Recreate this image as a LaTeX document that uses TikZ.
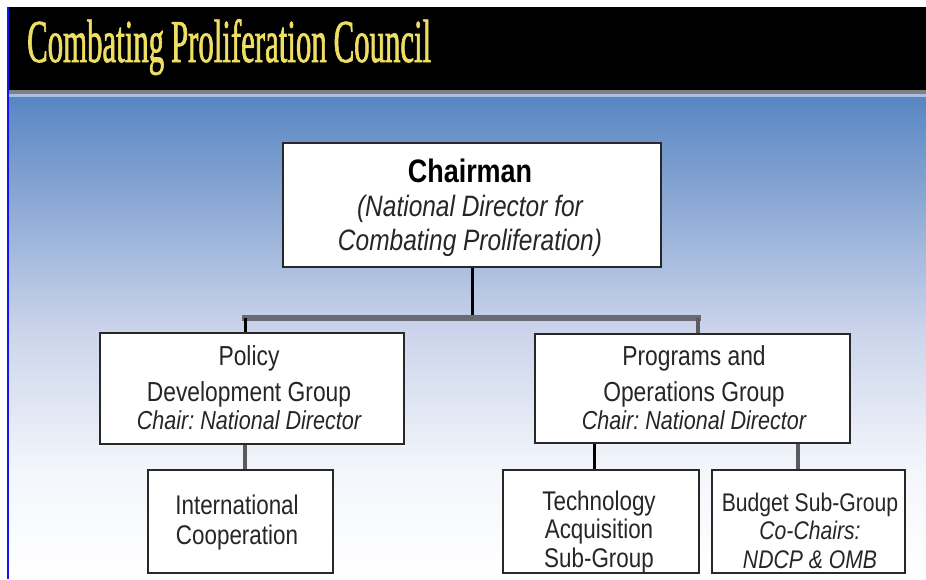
\documentclass[tikz,border=0pt]{standalone}
\usepackage{fontspec}
\setmainfont{Liberation Sans}
\newfontfamily\boxfont[FakeStretch=0.83,WordSpace=1.0]{Liberation Sans}
\newfontfamily\titlefont[FakeStretch=0.505,WordSpace=0.9,FakeBold=1]{Liberation Serif}
\frenchspacing
\definecolor{bgA}{RGB}{88,134,194}
\definecolor{bgB}{RGB}{203,212,235}
\definecolor{bgC}{RGB}{243,246,251}
\definecolor{bandlight}{RGB}{168,192,224}
\definecolor{titleyellow}{RGB}{238,222,98}
\definecolor{edgeblue}{RGB}{20,20,240}
\definecolor{boxedge}{RGB}{40,40,40}
\definecolor{bargray}{RGB}{106,106,114}
\definecolor{linegray}{RGB}{90,90,96}
\definecolor{textdark}{RGB}{38,38,38}
\tikzset{
  orgbox/.style={draw=boxedge, line width=2.8pt, fill=white, inner sep=0pt},
  boxtext/.style={text width=340pt, align=flush center, inner sep=0pt, text=textdark,
    font=\boxfont\fontsize{27.5}{36}\selectfont},
  blackline/.style={draw=black, line width=3pt},
  grayline/.style={draw=linegray, line width=4pt},
  barline/.style={draw=bargray, line width=6pt, line cap=rect}
}
\begin{document}
\begin{tikzpicture}[x=1pt,y=-1pt]
\useasboundingbox (0,0) rectangle (926,579);
\fill[white] (0,0) rectangle (926,579);
% background gradient
\shade[top color=bgA, bottom color=bgB] (9,97) rectangle (926,331);
\shade[top color=bgB, bottom color=bgC] (9,330) rectangle (926,471);
\shade[top color=bgC, bottom color=white] (9,470) rectangle (926,579);
% banner
\fill[black] (8,7) rectangle (926,90);
\fill[black!50] (8,90) rectangle (926,94);
\fill[bandlight] (8,94) rectangle (926,97);
\fill[edgeblue] (7,7) rectangle (8.6,579);
\node[anchor=base west, inner sep=0pt, text=titleyellow,
  font=\titlefont\fontsize{61}{64}\selectfont] (title) at (27,62)
  {Combating Proliferation Council};
% boxes
\node[orgbox, minimum width=378pt, minimum height=124pt] (chair) at (472,205) {};
\node[orgbox, minimum width=304pt, minimum height=111pt] (policy) at (252,388.5) {};
\node[orgbox, minimum width=315pt, minimum height=109pt] (programs) at (692.5,388.5) {};
\node[orgbox, minimum width=185pt, minimum height=103pt] (intl) at (240.5,521.5) {};
\node[orgbox, minimum width=196pt, minimum height=103pt] (tech) at (601,521.5) {};
\node[orgbox, minimum width=193pt, minimum height=103pt] (budget) at (808.5,521.5) {};
% connectors
\coordinate (barL) at (245,318);
\coordinate (barR) at (698,318);
\draw[blackline] (chair.south) -- (chair.south |- barL);
\draw[barline] (barL) -- (barR);
\draw[blackline] (barL) -- (barL |- policy.north);
\draw[grayline] (barR) -- (barR |- programs.north);
\draw[grayline] (barL |- policy.south) -- (barL |- intl.north);
\draw[blackline] ([xshift=-98.5pt]programs.south) -- ([xshift=-98.5pt]programs.south |- tech.north);
\draw[grayline] ([xshift=105.5pt]programs.south) -- ([xshift=105.5pt]programs.south |- budget.north);
% texts
\node[boxtext, font=\boxfont\fontsize{29.5}{34}\selectfont] (chairtext) at (470,208)
  {{\bfseries\fontsize{32.5}{34}\selectfont\color{black}Chairman}\\
   {\itshape (National Director for}\\
   {\itshape Combating Proliferation)}};
\node[boxtext] (policytext) at (249,387.2)
  {Policy\\Development Group\\[-8pt]
   {\itshape\fontsize{26}{36}\selectfont Chair: National Director}};
\node[boxtext] (programstext) at (694,387.5)
  {Programs and\\Operations Group\\[-8pt]
   {\itshape\fontsize{26}{36}\selectfont Chair: National Director}};
\node[boxtext, font=\boxfont\fontsize{27}{30}\selectfont] (intltext) at (237,523)
  {International\\Cooperation};
\node[boxtext, font=\boxfont\fontsize{27}{28.5}\selectfont] (techtext) at (599,532)
  {Technology\\Acquisition\\Sub-Group};
\node[boxtext, font=\boxfont\fontsize{25.5}{28.5}\selectfont] (budgettext) at (810,530.5)
  {Budget Sub-Group\\{\itshape Co-Chairs:}\\{\itshape NDCP \& OMB}};
\end{tikzpicture}
\end{document}
